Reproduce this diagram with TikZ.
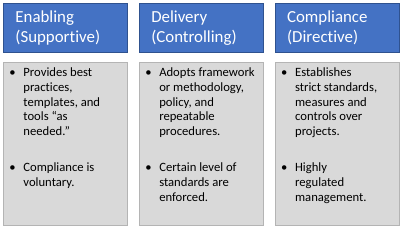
\documentclass[tikz,border=0pt]{standalone}
\usepackage{fontspec}
\setmainfont{Carlito}[Ligatures={NoCommon,NoRequired,NoContextual}]
\usetikzlibrary{positioning}

\definecolor{headfill}{HTML}{4472C4}
\definecolor{headline}{HTML}{2F528F}
\definecolor{bodyfill}{HTML}{D9D9D9}
\definecolor{bodyline}{HTML}{B4B4B4}

% bullet list with hand-set line breaks
\newcommand{\blist}[1]{\begin{tabular}[t]{@{}p{0.35cm}@{}l@{}}#1\end{tabular}}
\newcommand{\bsep}{\\[15pt]}

\begin{document}
\begin{tikzpicture}[
  node distance=0.225cm and 0.275cm,
  head/.style = {draw=headline, fill=headfill, line width=0.6pt, text=white,
                 minimum width=3.1cm, minimum height=1.225cm, inner xsep=0.3cm,
                 text width=2.5cm, align=left, font=\fontsize{12}{14.2}\selectfont},
  body/.style = {draw=bodyline, fill=bodyfill, line width=0.6pt, anchor=north,
                 inner xsep=0.15cm, inner ysep=0.0875cm,
                 font=\fontsize{9}{10.6}\selectfont},
]
\useasboundingbox (0,0) rectangle (10,5.675);
\node[head, anchor=north west] (enabHead) at (0.075,5.6) {Enabling\\(Supportive)};
\node[head, right=of enabHead] (delivHead) {Delivery\\(Controlling)};
\node[head, right=of delivHead] (complHead) {Compliance\\(Directive)};

\node[body, below=of enabHead] (enabBody) {\parbox[t][3.9cm][t]{2.8cm}{\blist{%
  \textbullet & Provides best\\ & practices,\\ & templates, and\\ & tools “as\\ & needed.”\bsep
  \textbullet & Compliance is\\ & voluntary.}}};
\node[body, below=of delivHead] (delivBody) {\parbox[t][3.9cm][t]{2.8cm}{\blist{%
  \textbullet & Adopts framework\\ & or methodology,\\ & policy, and\\ & repeatable\\ & procedures.\bsep
  \textbullet & Certain level of\\ & standards are\\ & enforced.}}};
\node[body, below=of complHead] (complBody) {\parbox[t][3.9cm][t]{2.8cm}{\blist{%
  \textbullet & Establishes\\ & strict standards,\\ & measures and\\ & controls over\\ & projects.\bsep
  \textbullet & Highly\\ & regulated\\ & management.}}};
\end{tikzpicture}
\end{document}
